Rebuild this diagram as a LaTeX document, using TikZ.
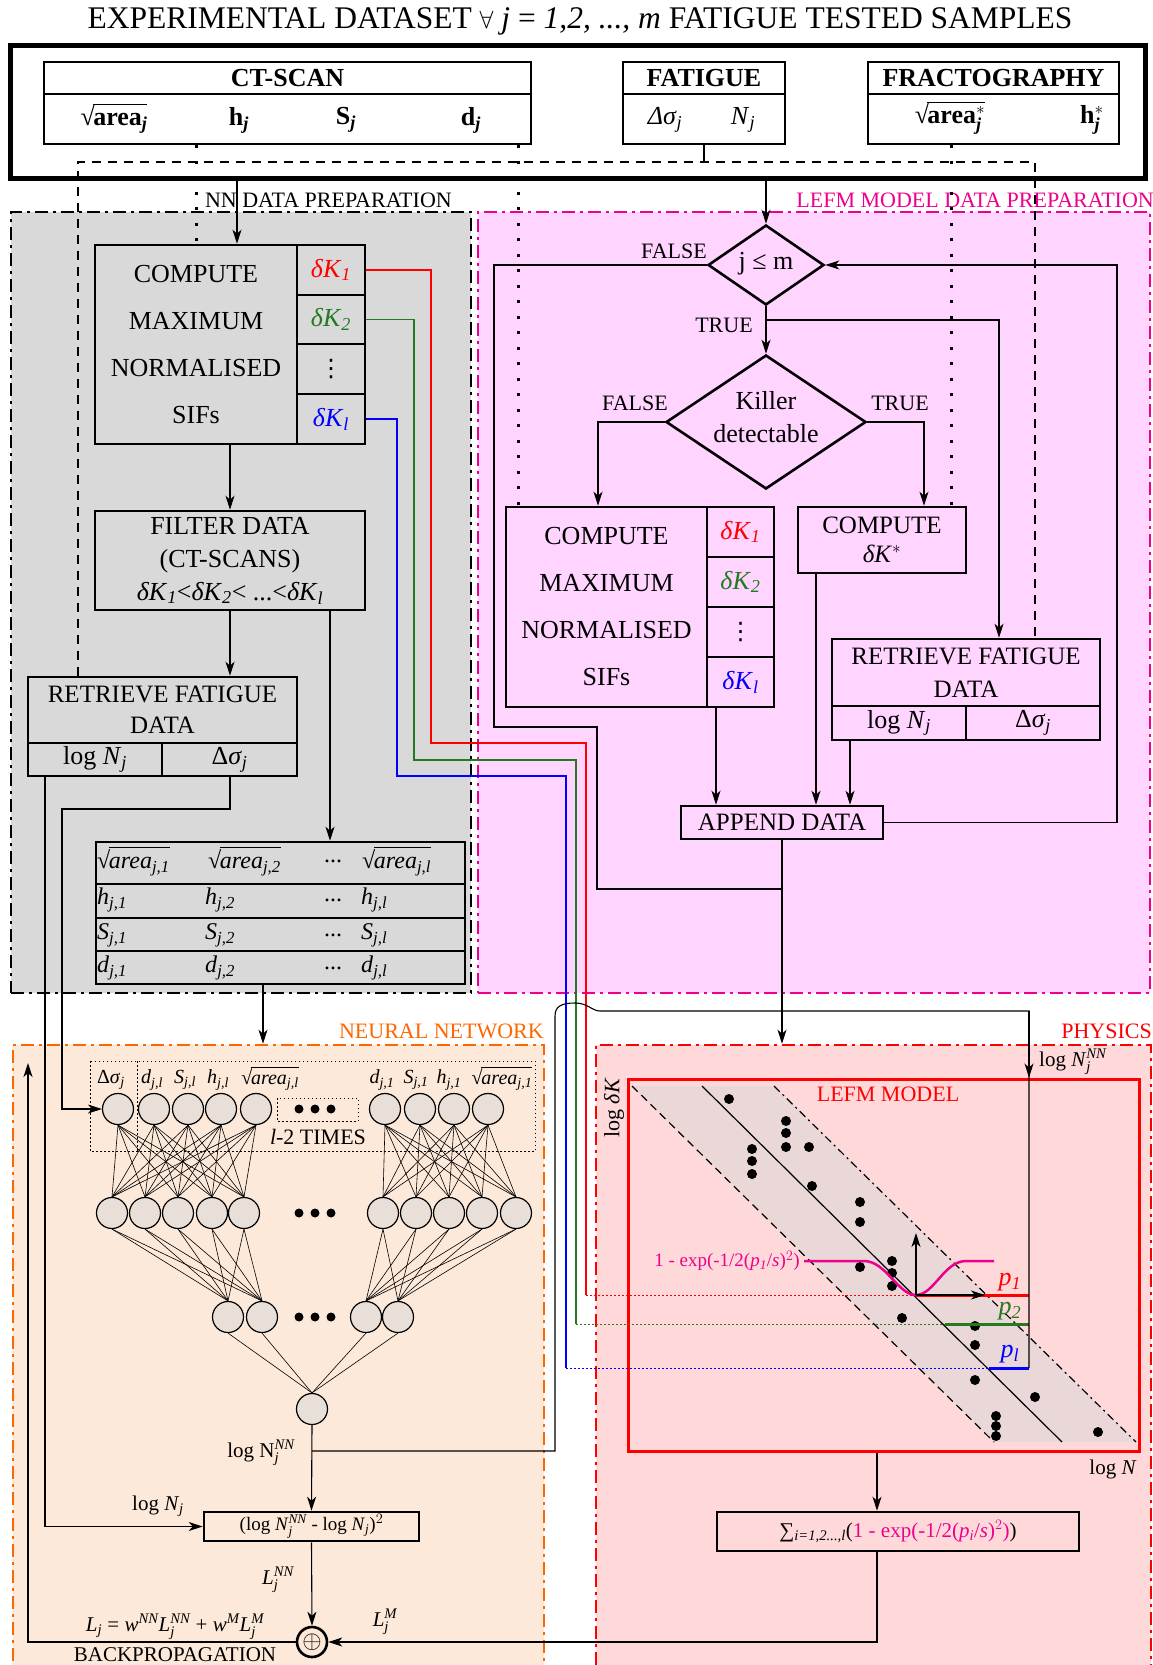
\documentclass[tikz,border=0pt]{standalone}
\usepackage{amsmath}
\usepackage{fontspec}
\setmainfont{Liberation Serif}
\newfontfamily\dvs{DejaVu Sans}
\usetikzlibrary{arrows.meta,shapes.geometric}
\definecolor{grayp}{HTML}{D9D9D9}
\definecolor{pinkp}{HTML}{FFD4FF}
\definecolor{peach}{HTML}{FDE9D9}
\definecolor{physc}{HTML}{FFD9DA}
\definecolor{bandc}{HTML}{EAD8D9}
\definecolor{neurc}{HTML}{E8E0D8}
\definecolor{orng}{HTML}{FF6600}
\definecolor{dgreen}{HTML}{237A23}
\newcommand{\fz}[1]{\fontsize{#1}{#1}\selectfont}
\newcommand{\ii}[1]{\textit{#1}}
\newcommand{\rtt}[1]{√\kern-0.06em$\overline{\vphantom{A}\mbox{#1}}$}
\newcommand{\vd}{{\dvs ⋮}}
\newcommand{\bx}[7][]{\node[boxc,minimum width={(#5-(#3))*1pt},minimum height={(#6-(#4))*1pt},#1] (#2) at ({(#3+#5)/2},{(#4+#6)/2}) {#7};}
\tikzset{
  boxc/.style={draw,line width=2.6pt,inner sep=0pt,align=center,font=\fz{26}},
  con/.style={line width=1.1pt},
  arr/.style={con,-{Stealth[length=14pt,width=9pt,inset=4pt]}},
  dsh/.style={line width=1.1pt,dash pattern=on 9pt off 7pt},
  dtt/.style={line width=3pt,dash pattern=on 3pt off 12.5pt},
  pnl/.style={line width=2.6pt,dash pattern=on 13pt off 5pt on 3pt off 5pt},
  txt/.style={inner sep=0pt,font=\fz{22}},
  dia/.style={diamond,draw,line width=2.6pt,inner sep=0pt},
  neuron/.style={circle,draw,line width=1.2pt,fill=neurc,minimum size=31pt,inner sep=0pt},
  nne/.style={line width=0.6pt},
  fdot/.style={line width=1pt,dash pattern=on 1.5pt off 2.5pt},
}
\begin{document}
\begin{tikzpicture}[x=1pt,y=-1pt]
\useasboundingbox (0,0) rectangle (1153,1665);
\clip (0,0) rectangle (1153,1665);
% ---------- panels
\bx[pnl,fill=grayp]{pnlNN}{11}{212}{471}{993}{}
\bx[pnl,draw=magenta,fill=pinkp]{pnlLM}{478}{212}{1150}{993}{}
\bx[pnl,draw=orng,fill=peach]{pnlN}{13}{1045}{544}{1720}{}
\bx[pnl,draw=red,fill=physc]{pnlP}{596}{1045}{1151}{1720}{}
\node[txt,anchor=east] (lNN) at (452,200) {NN DATA PREPARATION};
\node[txt,anchor=east,text=magenta] (lLM) at (1154,200) {LEFM MODEL DATA PREPARATION};
\node[txt,anchor=east,text=orng] (lN) at (544,1031) {NEURAL NETWORK};
\node[txt,anchor=east,text=red] (lP) at (1152,1031) {PHYSICS};
% ---------- title and dataset
\node[txt,font=\fz{31.5}] (title) at (580,21) {EXPERIMENTAL DATASET $\forall$ \ii{j} = \ii{1,2, ..., m} FATIGUE TESTED SAMPLES};
\bx[line width=5pt]{topb}{10}{45}{1145}{178}{}
\bx[font=\fz{26}\bfseries]{ctH}{44}{62}{531}{94}{CT-SCAN}
\bx{ctR}{44}{94}{531}{144}{}
\node[txt,font=\fz{26}\bfseries] (ctA) at (114,118) {\rtt{area$_{\ii{j}}$}};
\node[txt,font=\fz{26}\bfseries] (ctHh) at (239,120) {h$_{\ii{j}}$};
\node[txt,font=\fz{26}\bfseries] (ctS) at (346,120) {S$_{\ii{j}}$};
\node[txt,font=\fz{26}\bfseries] (ctD) at (471,120) {d$_{\ii{j}}$};
\bx[font=\fz{26}\bfseries]{fgH}{623}{62}{785}{94}{FATIGUE}
\bx{fgR}{623}{94}{785}{144}{}
\node[txt,font=\fz{26}] (fgS) at (665,120) {\ii{Δσ}$_{\ii{j}}$};
\node[txt,font=\fz{26}] (fgN) at (743,120) {\ii{N}$_{\ii{j}}$};
\bx[font=\fz{26}\bfseries]{frH}{868}{62}{1119}{94}{FRACTOGRAPHY}
\bx{frR}{868}{94}{1119}{144}{}
\node[txt,font=\fz{26}\bfseries] (frA) at (950,118) {\rtt{area$^{*}_{\ii{j}}$}};
\node[txt,font=\fz{26}\bfseries] (frHh) at (1092,120) {h$^{*}_{\ii{j}}$};
% ---------- NN data preparation
\bx[font=\fontsize{26}{47}\selectfont]{cmpL}{95}{245}{297}{444}{COMPUTE\\MAXIMUM\\NORMALISED\\SIFs}
\bx[text=red]{k1L}{297}{245}{365}{295}{\ii{δK}$_{\ii{1}}$}
\bx[text=dgreen]{k2L}{297}{295}{365}{344}{\ii{δK}$_{\ii{2}}$}
\bx[font=\fz{24}]{kdL}{297}{344}{365}{394}{\vd}
\bx[text=blue]{klL}{297}{394}{365}{444}{\ii{δK}$_{\ii{l}}$}
\bx[font=\fontsize{26}{33}\selectfont]{flt}{95}{511}{365}{610}{FILTER DATA\\(CT-SCANS)\\\ii{δK}$_{\ii{1}}$<\ii{δK}$_{\ii{2}}$< ...<\ii{δK}$_{\ii{l}}$}
\bx[font=\fontsize{25}{31}\selectfont]{retL}{28}{677}{297}{743}{RETRIEVE FATIGUE\\DATA}
\bx{rlN}{28}{743}{162}{776}{log \ii{N}$_{\ii{j}}$}
\bx{rlS}{162}{743}{297}{776}{Δ\ii{σ}$_{\ii{j}}$}
\bx{tr1}{96}{842}{465}{884}{}
\bx{tr2}{96}{884}{465}{918}{}
\bx{tr3}{96}{918}{465}{951}{}
\bx{tr4}{96}{951}{465}{984}{}
\begin{scope}[every node/.style={txt,font=\fz{24},anchor=west}]
\node (a1) at (97,861) {\rtt{\ii{area}$_{\ii{j,1}}$}};
\node (a2) at (208,861) {\rtt{\ii{area}$_{\ii{j,2}}$}};
\node (a3) at (324,861) {...};
\node (a4) at (362,861) {\rtt{\ii{area}$_{\ii{j,l}}$}};
\node (b1) at (97,900) {\ii{h}$_{\ii{j,1}}$};
\node (b2) at (205,900) {\ii{h}$_{\ii{j,2}}$};
\node (b3) at (324,900) {...};
\node (b4) at (361,900) {\ii{h}$_{\ii{j,l}}$};
\node (c1) at (97,935) {\ii{S}$_{\ii{j,1}}$};
\node (c2) at (205,935) {\ii{S}$_{\ii{j,2}}$};
\node (c3) at (324,935) {...};
\node (c4) at (361,935) {\ii{S}$_{\ii{j,l}}$};
\node (e1) at (97,968) {\ii{d}$_{\ii{j,1}}$};
\node (e2) at (205,968) {\ii{d}$_{\ii{j,2}}$};
\node (e3) at (324,968) {...};
\node (e4) at (361,968) {\ii{d}$_{\ii{j,l}}$};
\end{scope}
% ---------- LEFM data preparation
\node[dia,minimum width=116pt,minimum height=80pt] (dJ) at (766,265) {};
\node[txt,font=\fz{26}] (dJt) at (766,264) {j ≤ m};
\node[dia,minimum width=200pt,minimum height=134pt] (dK) at (766,422) {};
\node[txt,font=\fontsize{26}{33}\selectfont,align=center] (dKt) at (766,417) {Killer\\detectable};
\bx[font=\fontsize{26}{47}\selectfont]{cmpR}{506}{507}{707}{707}{COMPUTE\\MAXIMUM\\NORMALISED\\SIFs}
\bx[text=red]{k1R}{707}{507}{774}{557}{\ii{δK}$_{\ii{1}}$}
\bx[text=dgreen]{k2R}{707}{557}{774}{607}{\ii{δK}$_{\ii{2}}$}
\bx[font=\fz{24}]{kdR}{707}{607}{774}{657}{\vd}
\bx[text=blue]{klR}{707}{657}{774}{707}{\ii{δK}$_{\ii{l}}$}
\bx[font=\fontsize{25}{29}\selectfont]{dks}{798}{507}{966}{573}{COMPUTE\\\ii{δK}$^{*}$}
\bx[font=\fontsize{25}{33}\selectfont]{retR}{832}{639}{1100}{706}{RETRIEVE FATIGUE\\DATA}
\bx{rrN}{832}{706}{966}{740}{log \ii{N}$_{\ii{j}}$}
\bx{rrS}{966}{706}{1100}{740}{Δ\ii{σ}$_{\ii{j}}$}
\bx[font=\fz{25}]{app}{681}{806}{883}{839}{APPEND DATA}
\node[txt] (lbF1) at (674,251) {FALSE};
\node[txt] (lbT1) at (724,325) {TRUE};
\node[txt] (lbF2) at (635,403) {FALSE};
\node[txt] (lbT2) at (900,403) {TRUE};
% ---------- dataset connectors
\coordinate (dl) at (78,162);
\coordinate (dr) at (1035,162);
\draw[dsh] (78,0 |- retL.north) -- (dl) -- (dr) -- (1035,0 |- retR.north);
\draw[con] (fgR.south) -- (fgR.south |- dl);
\draw[dtt] (196,0 |- ctR.south) -- (196,0 |- cmpL.north);
\draw[dtt] (518,0 |- ctR.south) -- (518,0 |- cmpR.north);
\draw[dtt] (951,0 |- frR.south) -- (951,0 |- dks.north);
\draw[arr] (237,0 |- topb.south) -- (237,0 |- cmpL.north);
\draw[arr] (topb.south -| dJ) -- (dJ.north);
% ---------- left connectors
\draw[arr] (230,0 |- cmpL.south) -- (230,0 |- flt.north);
\draw[arr] (230,0 |- flt.south) -- (230,0 |- retL.north);
\draw[arr] (330,0 |- flt.south) -- (330,0 |- tr1.north);
\draw[arr] (263,0 |- tr4.south) -- (263,0 |- pnlN.north);
% ---------- right connectors
\draw[arr] (dJ.south) -- (dK.north);
\coordinate (tb) at (766,320);
\draw[arr] (tb) -- (999,320) -- (999,0 |- retR.north);
\draw[arr] (dK.west) -- (598,422) -- (598,0 |- cmpR.north);
\draw[arr] (dK.east) -- (924,422) -- (924,0 |- dks.north);
\draw[con] (dJ.west) -- (494,265) -- (494,727) -- (597,727) -- (597,889) -- (app.south |- 0,889);
\draw[arr] (app.east) -- (1117,0 |- app.east) -- (1117,0 |- dJ.east) -- (dJ.east);
\draw[arr] (716,0 |- cmpR.south) -- (716,0 |- app.north);
\draw[arr] (816,0 |- dks.south) -- (816,0 |- app.north);
\draw[arr] (850,0 |- rrN.south) -- (850,0 |- app.north);
\draw[arr] (app.south) -- (app.south |- pnlP.north);
% ---------- coloured SIF lines
\coordinate (p1s) at (916,1295);
\coordinate (p2s) at (945,1324);
\coordinate (p3s) at (989,1368);
\draw[red,con] (k1L.east) -- (431,0 |- k1L.east) -- (431,743) -- (586,743) -- (586,1295);
\draw[dgreen,con] (k2L.east) -- (414,0 |- k2L.east) -- (414,760) -- (576,760) -- (576,1324);
\draw[blue,con] (klL.east) -- (397,0 |- klL.east) -- (397,776) -- (566,776) -- (566,1368);
% ---------- physics
\bx[draw=red,line width=3pt]{lefm}{628}{1079}{1139}{1451}{}
\fill[bandc] (632,1086) -- (774,1086) -- (1136,1442) -- (994,1442) -- cycle;
\draw[line width=1.2pt,dash pattern=on 8pt off 5pt] (632,1086) -- (994,1442);
\draw[line width=1.2pt] (702,1086) -- (1062,1442);
\draw[line width=1.2pt,dash pattern=on 8pt off 4pt on 2pt off 4pt] (774,1086) -- (1136,1442);
\foreach \x/\y in {729/1099,786/1121,786/1133,786/1147,809/1147,752/1149,752/1161,752/1174,812/1186,860/1202,860/1222,892/1261,860/1267,892/1273,892/1286,902/1318,975/1326,975/1345,975/1380,1035/1397,996/1416,996/1426,996/1436,1098/1432}
  \fill (\x,\y) circle (5);
\node[txt,text=red] (lLEFM) at (888,1094) {LEFM MODEL};
\node[txt,rotate=90] (lK) at (614,1108) {log \ii{δK}};
\draw[red,fdot] (586,1295) -- (p1s);
\draw[dgreen,fdot] (576,1324) -- (p2s);
\draw[blue,fdot] (566,1368) -- (p3s);
\draw[red,line width=3pt] (p1s) -- (1029,1295);
\draw[dgreen,line width=3pt] (p2s) -- (1029,1324);
\draw[blue,line width=3pt] (p3s) -- (1029,1368);
\draw[magenta,line width=2.5pt] (804,1261) -- (864,1261) .. controls (886,1261) and (898,1295) .. (916,1295) .. controls (934,1295) and (944,1261) .. (966,1261) -- (994,1261);
\draw[arr] (p1s) -- (985,1295);
\draw[arr] (p1s) -- (916,1233);
\node[txt,font=\fz{19},text=magenta,anchor=east] (lexp) at (800,1261) {1 - exp(-1/2(\ii{p}$_{\ii{1}}$/\ii{s})$^{2}$)};
\node[txt,font=\fz{26},text=red] (lp1) at (1010,1282) {\ii{p}$_{\ii{1}}$};
\node[txt,font=\fz{26},text=dgreen] (lp2) at (1010,1311) {\ii{p}$_{\ii{2}}$};
\node[txt,font=\fz{26},text=blue] (lp3) at (1010,1354) {\ii{p}$_{\ii{l}}$};
\node[txt,font=\fz{21}] (lNp) at (1113,1469) {log \ii{N}};
\node[txt,font=\fz{21},anchor=west] (lNNp) at (1039,1062) {log \ii{N}$_{\ii{j}}^{\ii{NN}}$};
\bx[font=\fz{21}]{sum}{717}{1512}{1079}{1551}{∑$_{\ii{i=1,2...,l}}$(\textcolor{magenta}{1 - exp(-1/2(\ii{p}$_{\ii{i}}$/\ii{s})$^{2}$)})}
% ---------- neural network
\draw[fdot] (90,1061) rectangle (535,1151);
\draw[fdot] (137,1061) -- (137,1151);
\draw[fdot] (277,1098) rectangle (358,1121);
\foreach \n/\x in {1/118,2/154,3/188,4/221,5/256,6/385,7/420,8/454,9/488}
  \node[neuron] (i\n) at (\x,1109) {};
\foreach \n/\x in {1/112,2/145,3/178,4/212,5/244,6/383,7/416,8/449,9/482,10/516}
  \node[neuron] (h\n) at (\x,1213) {};
\foreach \n/\x in {1/228,2/262,3/366,4/398}
  \node[neuron] (g\n) at (\x,1317) {};
\node[neuron] (out) at (312,1409) {};
\foreach \a in {1,...,5} \foreach \b in {1,...,5} \draw[nne] (i\a.south) -- (h\b.north);
\foreach \a in {6,...,9} \foreach \b in {6,...,10} \draw[nne] (i\a.south) -- (h\b.north);
\foreach \a in {1,...,5} \foreach \b in {1,2} \draw[nne] (h\a.south) -- (g\b.north);
\foreach \a in {6,...,10} \foreach \b in {3,4} \draw[nne] (h\a.south) -- (g\b.north);
\foreach \a in {1,...,4} \draw[nne] (g\a.south) -- (out.north);
\foreach \y in {1109,1213,1317} \foreach \x in {299,315,331} \fill (\x,\y) circle (4.5);
\begin{scope}[every node/.style={txt,font=\fz{20}}]
\node (n1) at (111,1080) {Δ\ii{σ}$_{\ii{j}}$};
\node (n2) at (152,1080) {\ii{d}$_{\ii{j,l}}$};
\node (n3) at (185,1080) {\ii{S}$_{\ii{j,l}}$};
\node (n4) at (218,1080) {\ii{h}$_{\ii{j,l}}$};
\node (n5) at (270,1078) {\rtt{\ii{area}$_{\ii{j,l}}$}};
\node (n6) at (382,1080) {\ii{d}$_{\ii{j,1}}$};
\node (n7) at (416,1080) {\ii{S}$_{\ii{j,1}}$};
\node (n8) at (449,1080) {\ii{h}$_{\ii{j,1}}$};
\node (n9) at (502,1078) {\rtt{\ii{area}$_{\ii{j,1}}$}};
\end{scope}
\node[txt,font=\fz{22}] (ltimes) at (318,1137) {\ii{l}-2 TIMES};
\bx[font=\fz{19}]{loss}{204}{1512}{419}{1541}{(log \ii{N}$_{\ii{j}}^{\ii{NN}}$ - log \ii{N}$_{\ii{j}}$)$^{2}$}
\node[circle,draw,line width=2.6pt,minimum size=30pt,inner sep=0pt,font=\fz{24}] (plus) at (312,1642) {$\oplus$};
\coordinate (ob) at (312,1451);
\draw[arr] (out.south) -- (loss.north);
\draw[con] (ob) -- (555,1451) -- (555,1016) .. controls (555,1006) and (562,1003) .. (575,1003) .. controls (588,1003) and (592,1011) .. (600,1011) -- (1029,1011) -- (1029,1368);
\draw[arr] (1029,1011) -- (1029,0 |- lefm.north);
\draw[arr] (45,0 |- rlN.south) -- (45,0 |- loss.west) -- (loss.west);
\draw[arr] (230,0 |- rlS.south) -- (230,809) -- (62,809) -- (62,0 |- i1.west) -- (i1.west);
\draw[arr] (loss.south) -- (plus.north);
\draw[arr] (877,0 |- lefm.south) -- (877,0 |- sum.north);
\draw[arr] (877,0 |- sum.south) -- (877,0 |- plus.east) -- (plus.east);
\draw[arr] (plus.west) -- (28,0 |- plus.west) -- (28,1063);
\begin{scope}[every node/.style={txt,font=\fz{21}}]
\node (lNNo) at (261,1453) {log N$_{\ii{j}}^{\ii{NN}}$};
\node (lNj) at (158,1506) {log \ii{N}$_{\ii{j}}$};
\node (lLnn) at (278,1580) {\ii{L}$_{\ii{j}}^{\ii{NN}}$};
\node (lLj) at (175,1627) {\ii{L}$_{\ii{j}}$ = \ii{w}$^{\ii{NN}}$\ii{L}$_{\ii{j}}^{\ii{NN}}$ + \ii{w}$^{\ii{M}}$\ii{L}$_{\ii{j}}^{\ii{M}}$};
\node (lBP) at (175,1655) {BACKPROPAGATION};
\node (lLm) at (385,1622) {\ii{L}$_{\ii{j}}^{\ii{M}}$};
\end{scope}
\end{tikzpicture}
\end{document}
